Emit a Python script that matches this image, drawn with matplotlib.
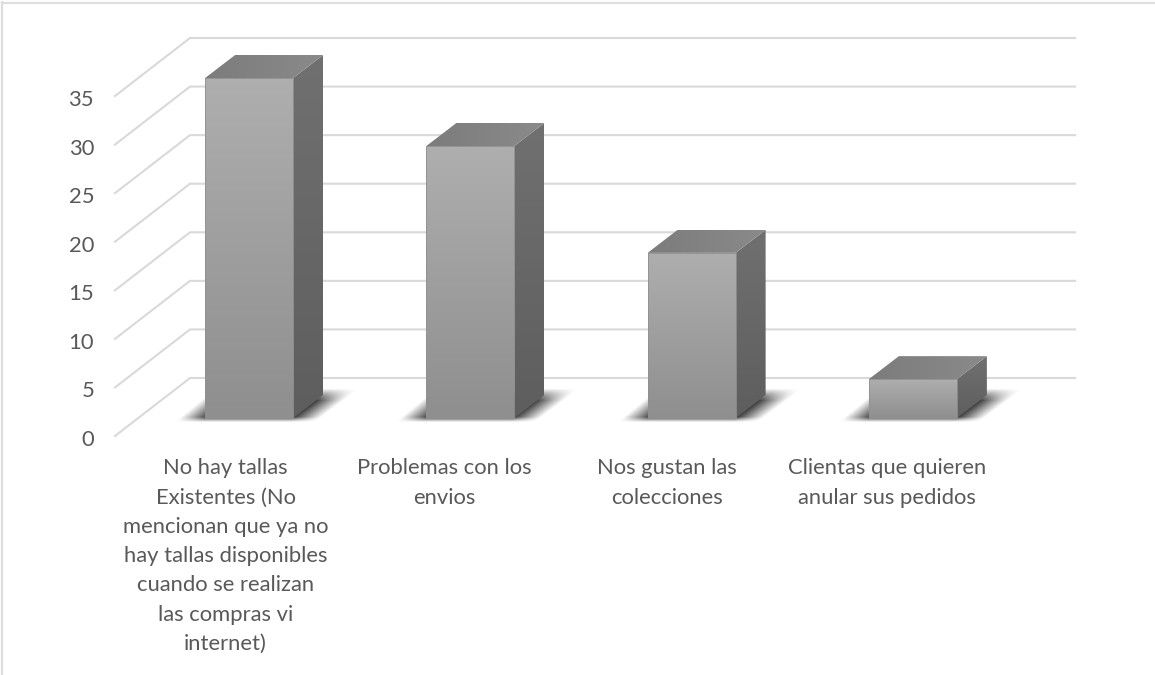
import numpy as np
import matplotlib
matplotlib.use('Agg')
import matplotlib.pyplot as plt
from matplotlib.lines import Line2D
from matplotlib.patches import Polygon
from matplotlib.colors import LinearSegmentedColormap
from matplotlib.transforms import ScaledTranslation

categories = [
    'No hay tallas\nExistentes (No\nmencionan que ya no\nhay tallas disponibles\ncuando se realizan\nlas compras vi\ninternet)',
    'Problemas con los\nenvios',
    'Nos gustan las\ncolecciones',
    'Clientas que quieren\nanular sus pedidos',
]
values = [35, 28, 17, 4]
y_ticks = [0, 5, 10, 15, 20, 25, 30, 35]
label_shift = [0, -3, -1, -2]  # labels are not quite centred in the original

plt.rcParams['font.family'] = ['Lato', 'DejaVu Sans']

W, H = 1155, 675
fig = plt.figure(figsize=(W / 100, H / 100), dpi=100, facecolor='white')
# front plane of the fake 3d box, the walls are offset from it
ax = fig.add_axes([115 / W, 1 - 436 / H, 885 / W, 340 / H])
ax.set_facecolor('none')

# pixel sizes -> data units
ux = 4 / 885
uy = 35 / 340


def gradient(pts, c1, c2, horizontal=False, z=3):
    cmap = LinearSegmentedColormap.from_list('g', [c1, c2])
    xs = [p[0] for p in pts]
    ys = [p[1] for p in pts]
    arr = np.linspace(0, 1, 64)
    arr = arr.reshape(1, -1) if horizontal else arr.reshape(-1, 1)
    im = ax.imshow(arr, cmap=cmap, aspect='auto', origin='upper', zorder=z,
                   extent=(min(xs), max(xs), min(ys), max(ys)))
    im.set_clip_path(Polygon(pts, closed=True, transform=ax.transData))
    im.set_clip_box(fig.bbox)


def soft_shadow(x0, x1, y0):
    # blurred parallelogram on the floor, worked out in pixels around the bar base
    width = (x1 - x0) / ux
    s, h = np.meshgrid(np.arange(-40, width + 80), np.arange(-12, 38))
    left = -16 + 33 * (h + 3) / 27
    right = width + 10 + 36 * (h + 3) / 27
    across = np.clip(np.minimum(s - left, right - s) / 26 + 0.5, 0, 1)
    along = np.clip(np.minimum((h + 2) / 5, (23 - h) / 12) + 0.5, 0, 1)
    rgba = np.zeros(s.shape + (4,))
    rgba[..., :3] = 0x44 / 255
    rgba[..., 3] = across * along
    im = ax.imshow(rgba, aspect='auto', origin='lower', zorder=2, interpolation='bilinear',
                   extent=(x0 - 40 * ux, x0 + (width + 80) * ux, y0 - 12 * uy, y0 + 38 * uy))
    im.set_clip_on(False)


# slanted floor/side lines and back wall
for t in y_ticks:
    back_x = -0.5 + 75 * ux
    back_y = t + 58 * uy
    ax.plot([-0.5, back_x, 3.5 + 75 * ux], [t, back_y, back_y], color='#d9d9d9',
            lw=1.5, clip_on=False, zorder=1, solid_joinstyle='miter')

base_dx, base_dy = 23.5 * ux, 18 * uy
half = 44 * ux
depth_x, depth_y = 30 * ux, 23 * uy

for i, v in enumerate(values):
    x0 = i + base_dx - half
    x1 = i + base_dx + half
    y0 = base_dy
    y1 = base_dy + v

    soft_shadow(x0, x1, y0)

    front = [(x0, y0), (x1, y0), (x1, y1), (x0, y1)]
    side = [(x1, y0), (x1 + depth_x, y0 + depth_y), (x1 + depth_x, y1 + depth_y), (x1, y1)]
    top = [(x0, y1), (x1, y1), (x1 + depth_x, y1 + depth_y), (x0 + depth_x, y1 + depth_y)]
    gradient(side, '#707070', '#5e5e5e')
    gradient(top, '#7c7c7c', '#8a8a8a', horizontal=True)
    gradient(front, '#aeaeae', '#8f8f8f', z=4)
    ax.add_patch(Polygon(front, closed=True, fill=False, edgecolor='#909090', lw=0.6,
                         clip_on=False, zorder=5))

ax.set_xlim(-0.5, 3.5)
ax.set_ylim(0, 35)
ax.set_yticks(y_ticks)
ax.set_yticklabels([str(t) for t in y_ticks])
ax.set_xticks(range(len(categories)))
ax.set_xticklabels(categories, linespacing=1.58)
ax.tick_params(axis='both', length=0, labelsize=15.8, labelcolor='#595959')
ax.tick_params(axis='x', pad=16)
ax.tick_params(axis='y', pad=15)
for lab, dx in zip(ax.get_xticklabels(), label_shift):
    lab.set_transform(lab.get_transform() + ScaledTranslation(dx / 100, 0, fig.dpi_scale_trans))
for lab in ax.get_yticklabels():
    lab.set_transform(lab.get_transform() + ScaledTranslation(0, -2 / 100, fig.dpi_scale_trans))
for s in ax.spines.values():
    s.set_visible(False)

# thin frame, only top and left are visible in the image
fig.add_artist(Line2D([2 / W, 2 / W], [0, 1 - 2 / H], color='#dedede', lw=1.6))
fig.add_artist(Line2D([2 / W, 1], [1 - 2.5 / H, 1 - 2.5 / H], color='#dedede', lw=1.6))

fig.savefig('out.png', dpi=100)
